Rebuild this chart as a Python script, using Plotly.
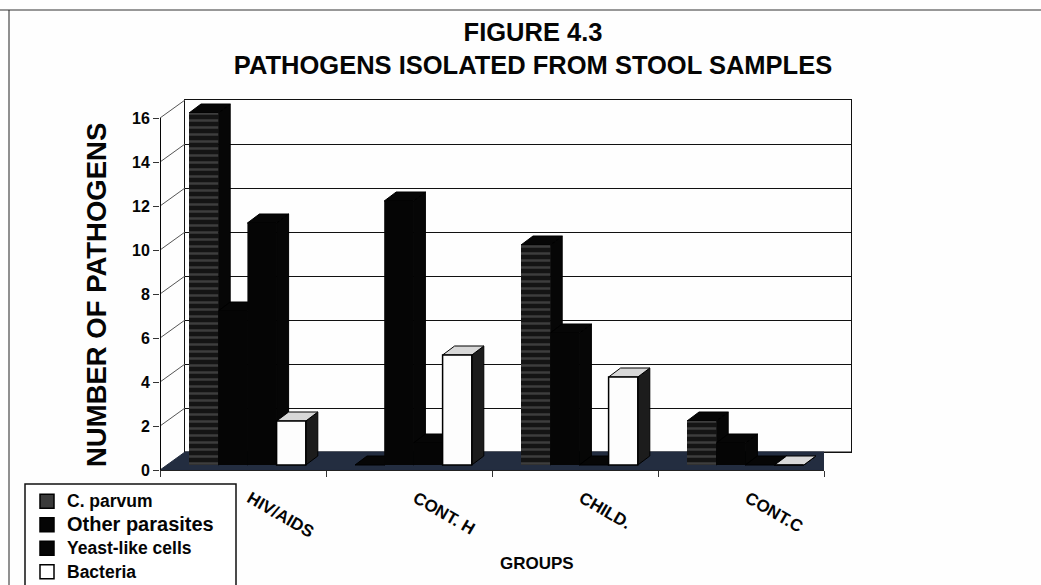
import plotly.graph_objects as go

categories = ["HIV/AIDS", "CONT. H", "CHILD.", "CONT.C"]
c_parvum = [16, 0, 10, 2]
other_parasites = [7, 12, 6, 1]
yeast_like = [11, 1, 0, 0]
bacteria = [2, 5, 4, 0]
y_ticks = [0, 2, 4, 6, 8, 10, 12, 14, 16]

series_names = ["C. parvum", "Other parasites", "Yeast-like cells", "Bacteria"]
series_values = [c_parvum, other_parasites, yeast_like, bacteria]

W, H = 1041, 585
FONT = "Liberation Sans"
INK = "#050505"
FLOOR = "#232d40"

# Pseudo-3D geometry, in axis units of the front axes
WALL_DX, WALL_DY = 25 / 166, 18 / 22      # depth of the floor / side wall
BAR_DX, BAR_DY = 12 / 166, 9 / 22         # depth of a single bar
BAR_BASE = 5 / 22                         # bars stand slightly inside the floor
BAR_W = 29.2 / 166
GROUP_LEFT = 29 / 166                     # first bar's left edge inside a group
FRONT_RANGE_TOP = 17                      # head-room so the tallest bar is not clipped
LABEL_SHIFT = 7 / 166                     # category labels start right of the group centre


def xdom(a, b):
    return [a / W, b / W]


def ydom(top, bottom):
    return [1 - bottom / H, 1 - top / H]


fig = go.Figure()

# ---- back wall holder, so that its axes and gridlines are drawn ----
fig.add_trace(go.Scatter(x=[0, 4], y=[0, 0], xaxis="x", yaxis="y", mode="lines",
                         line=dict(color="#111111", width=1),
                         showlegend=False, hoverinfo="skip"))

# ---- floor and side-wall diagonals (depth layer) ----
fig.add_trace(go.Scatter(
    x=[0, 4, 4 + WALL_DX, WALL_DX, 0], y=[0, 0, WALL_DY, WALL_DY, 0],
    xaxis="x2", yaxis="y2", mode="lines", fill="toself", fillcolor=FLOOR,
    line=dict(color=FLOOR, width=1), showlegend=False, hoverinfo="skip", cliponaxis=False))
diag_x, diag_y = [], []
for v in y_ticks[1:]:
    diag_x += [0, WALL_DX, None]
    diag_y += [v, v + WALL_DY, None]
fig.add_trace(go.Scatter(
    x=diag_x, y=diag_y, xaxis="x2", yaxis="y2", mode="lines",
    line=dict(color="#555555", width=1), showlegend=False, hoverinfo="skip", cliponaxis=False))

# ---- bar depth faces ----
side_cols = ["#060606", "#060606", "#060606", "#1c1c1c"]
top_cols = ["#060606", "#060606", "#060606", "#d8d8d8"]
for i, vals in enumerate(series_values):
    sx, sy, tx, ty = [], [], [], []
    for c, v in enumerate(vals):
        left = c + GROUP_LEFT + i * BAR_W
        right = left + BAR_W
        base = BAR_BASE
        top = BAR_BASE + v
        sx += [right, right + BAR_DX, right + BAR_DX, right, right, None]
        sy += [base, base + BAR_DY, top + BAR_DY, top, base, None]
        tx += [left, right, right + BAR_DX, left + BAR_DX, left, None]
        ty += [top, top, top + BAR_DY, top + BAR_DY, top, None]
    fig.add_trace(go.Scatter(
        x=sx, y=sy, xaxis="x2", yaxis="y2", mode="lines", fill="toself",
        fillcolor=side_cols[i], line=dict(color="#000000", width=1),
        showlegend=False, hoverinfo="skip", cliponaxis=False))
    fig.add_trace(go.Scatter(
        x=tx, y=ty, xaxis="x2", yaxis="y2", mode="lines", fill="toself",
        fillcolor=top_cols[i], line=dict(color="#000000", width=1),
        showlegend=False, hoverinfo="skip", cliponaxis=False))

# ---- bar fronts ----
front_styles = [
    dict(color="#1a1a1a", line=dict(color="#1a1a1a", width=0),
         pattern=dict(shape="-", size=7, solidity=0.35, fgcolor="#666666", bgcolor="#141414")),
    dict(color="#050505", line=dict(color="#050505", width=0)),
    dict(color="#050505", line=dict(color="#050505", width=0)),
    dict(color="#fdfdfd", line=dict(color="#000000", width=1.5)),
]
centres = [c + 0.5 for c in range(len(categories))]
for i, vals in enumerate(series_values):
    fig.add_trace(go.Bar(
        x=centres, y=vals, base=BAR_BASE, width=BAR_W,
        offset=GROUP_LEFT + i * BAR_W - 0.5,
        xaxis="x3", yaxis="y3", marker=front_styles[i], name=series_names[i],
        showlegend=False, cliponaxis=False))

# ---- value-axis line, stopping at the top tick ----
fig.add_trace(go.Scatter(x=[0, 0], y=[y_ticks[0], y_ticks[-1]], xaxis="x3", yaxis="y3",
                         mode="lines", line=dict(color="#050505", width=2),
                         showlegend=False, hoverinfo="skip", cliponaxis=False))

# ---- legend entries ----
legend_sizes = [17.5, 20, 17.5, 17.5]
legend_cols = ["#3a3a3a", "#050505", "#050505", "#ffffff"]
for i, name in enumerate(series_names):
    fig.add_trace(go.Scatter(
        x=[None], y=[None], xaxis="x3", yaxis="y3", mode="markers",
        marker=dict(symbol="square", size=14, color=legend_cols[i],
                    line=dict(color="#000000", width=1.5)),
        legendgroup=name,
        name=f'<span style="font-size:{legend_sizes[i]}px">{name}</span>'))

fig.update_layout(
    width=W, height=H, autosize=False,
    margin=dict(l=0, r=0, t=0, b=0, autoexpand=False),
    paper_bgcolor="#fefefe", plot_bgcolor="rgba(0,0,0,0)",
    font=dict(family=FONT, color=INK),
    barmode="overlay",
    showlegend=True,
    title=dict(
        text="<b>FIGURE 4.3<br>PATHOGENS ISOLATED FROM STOOL SAMPLES</b>",
        x=533 / W, xanchor="center", y=1 - 41 / H, yanchor="top",
        font=dict(family=FONT, size=25.5, color=INK)),
    legend=dict(
        x=27 / W, xanchor="left", y=1 - 485 / H, yanchor="top",
        bgcolor="rgba(0,0,0,0)", borderwidth=0, tracegroupgap=1,
        font=dict(family=FONT, size=15, color=INK, weight="bold"),
        itemwidth=30, itemclick=False, itemdoubleclick=False),
    # back wall
    xaxis=dict(domain=xdom(185, 851), range=[0, 4], anchor="y", showgrid=False,
               showticklabels=False, ticks="", zeroline=False,
               showline=True, linecolor="#111111", linewidth=1, mirror=True),
    yaxis=dict(domain=ydom(100, 452), range=[0, 16], anchor="x", tickvals=y_ticks,
               showgrid=True, gridcolor="#111111", gridwidth=1, showticklabels=False,
               ticks="", zeroline=False,
               showline=True, linecolor="#111111", linewidth=1, mirror=True),
    # front axes
    xaxis2=dict(domain=xdom(160, 824), range=[0, 4], anchor="y2", tickvals=[0, 1, 2, 3, 4],
                ticks="outside", ticklen=6, tickcolor="#333333", showticklabels=False,
                showgrid=False, zeroline=False, showline=True, linecolor="#222222", linewidth=1),
    yaxis2=dict(domain=ydom(96, 470), range=[0, FRONT_RANGE_TOP], anchor="x2", tickvals=y_ticks,
                ticks="outside", ticklen=6, tickcolor="#333333",
                tickfont=dict(family=FONT, size=16, color=INK, weight="bold"),
                showgrid=False, zeroline=False, showline=False),
    xaxis3=dict(domain=xdom(160, 824), range=[0, 4], anchor="y3", overlaying="x2",
                tickvals=[c + LABEL_SHIFT for c in centres], ticktext=categories,
                tickangle=30, ticks="outside",
                ticklen=11, tickcolor="rgba(0,0,0,0)", showgrid=False, zeroline=False,
                tickfont=dict(family=FONT, size=17, color=INK, weight="bold")),
    yaxis3=dict(domain=ydom(96, 470), range=[0, FRONT_RANGE_TOP], anchor="x3", overlaying="y2",
                showticklabels=False, ticks="", showgrid=False, zeroline=False),
    shapes=[
        # scan frame
        dict(type="line", xref="paper", yref="paper", x0=0, x1=1,
             y0=1 - 10 / H, y1=1 - 10 / H, line=dict(color="#333333", width=1)),
        dict(type="line", xref="paper", yref="paper", x0=9 / W, x1=9 / W,
             y0=0, y1=1 - 10 / H, line=dict(color="#222222", width=1)),
        # legend box
        dict(type="rect", xref="paper", yref="paper", x0=25 / W, x1=236 / W,
             y0=-5 / H, y1=1 - 484 / H, line=dict(color="#111111", width=1.5),
             fillcolor="#ffffff", layer="below"),
    ],
    annotations=[
        dict(text="<b>GROUPS</b>", xref="paper", yref="paper", x=537 / W, y=1 - 563 / H,
             xanchor="center", yanchor="middle", showarrow=False,
             font=dict(family=FONT, size=17, color=INK)),
        dict(text="<b>NUMBER OF PATHOGENS</b>", xref="paper", yref="paper",
             x=96 / W, y=1 - 295 / H, xanchor="center", yanchor="middle",
             textangle=-90, showarrow=False,
             font=dict(family=FONT, size=27.5, color=INK)),
    ],
)

fig.write_html("out.html", config=dict(displayModeBar=False),
               post_script="document.body.style.margin='0';")
